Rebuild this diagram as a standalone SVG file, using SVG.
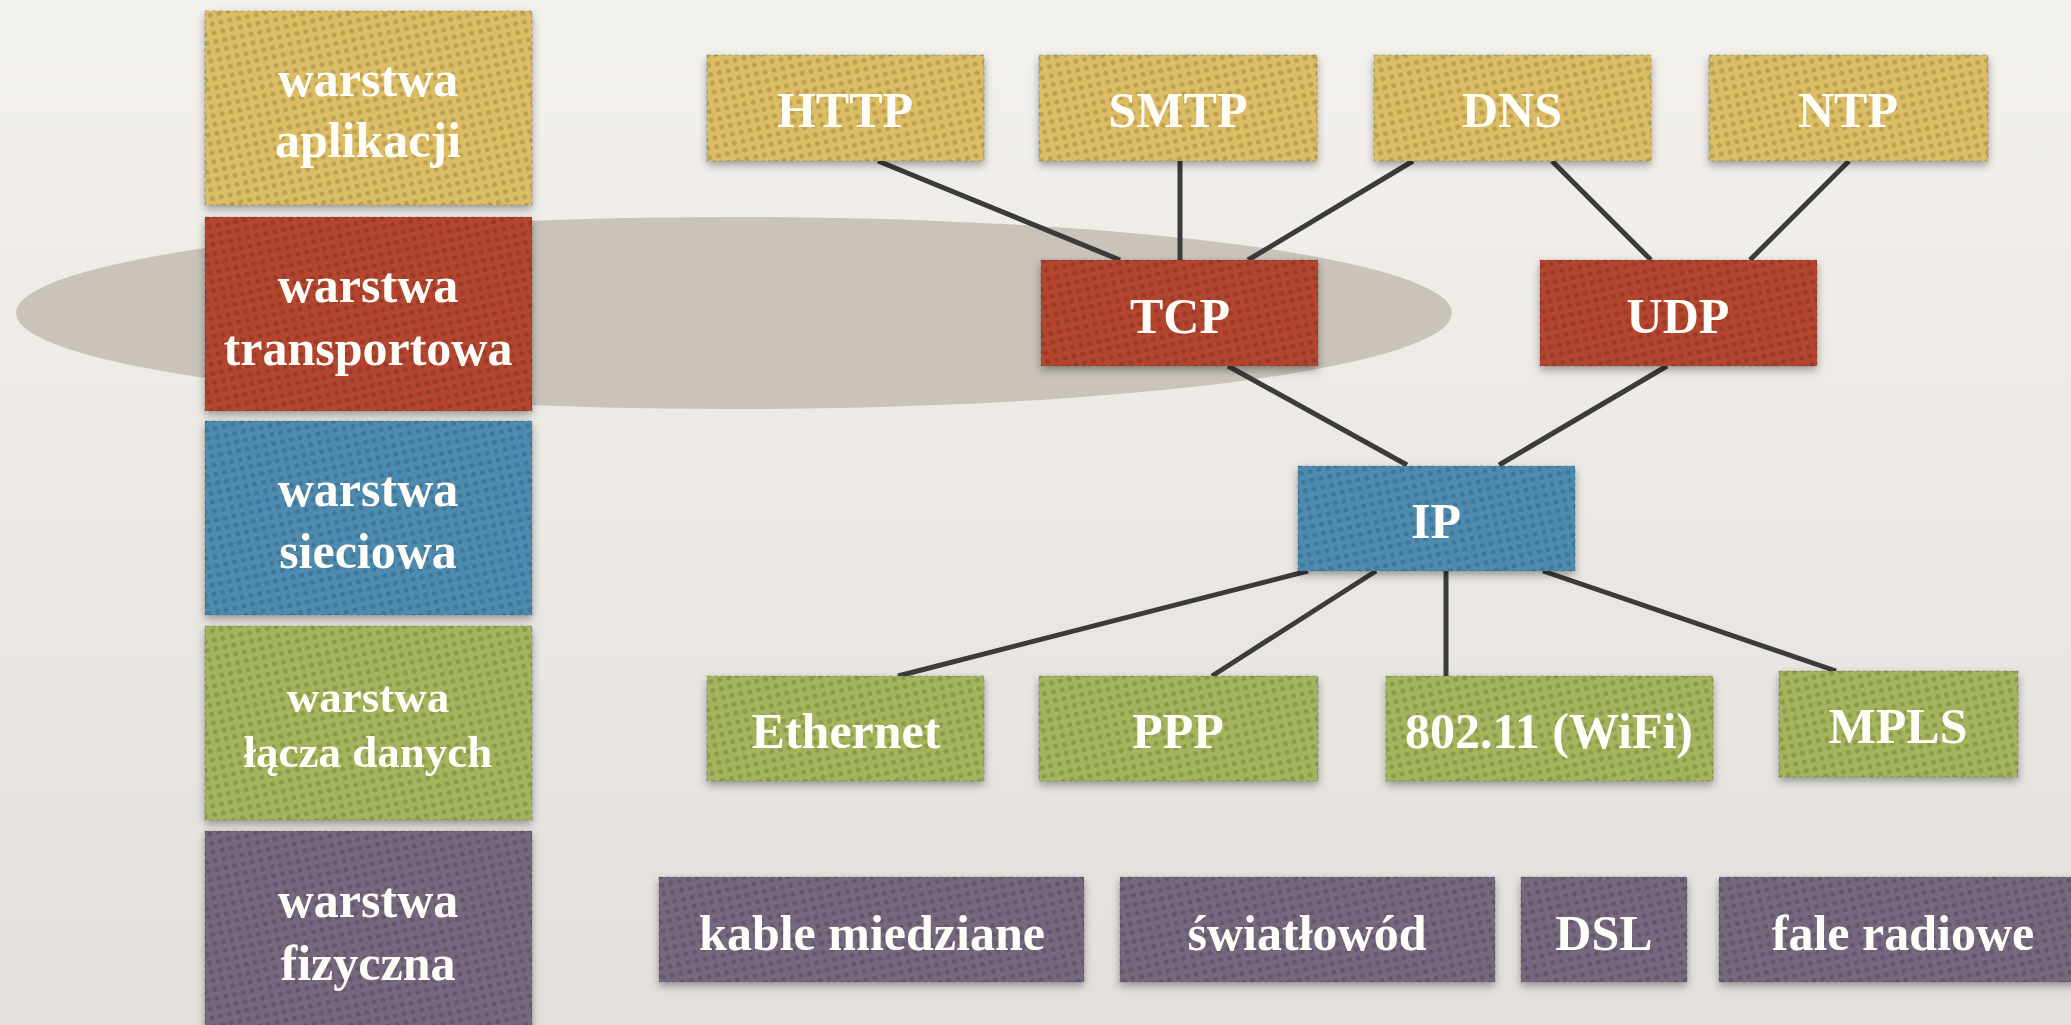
<svg xmlns="http://www.w3.org/2000/svg" width="2071" height="1025" viewBox="0 0 2071 1025">
<defs>
<linearGradient id="bg" x1="0" y1="0" x2="0" y2="1">
<stop offset="0" stop-color="#f3f1ec"/>
<stop offset="1" stop-color="#e3e0db"/>
</linearGradient>
<pattern id="dots" width="9" height="9" patternUnits="userSpaceOnUse" patternTransform="rotate(-12)">
<circle cx="4.5" cy="4.5" r="2.5" fill="#000" fill-opacity="0.15"/>
</pattern>
<filter id="sh" x="-10%" y="-10%" width="120%" height="130%">
<feDropShadow dx="0" dy="4" stdDeviation="4" flood-color="#000" flood-opacity="0.35"/>
</filter>
</defs>
<style>
.box{filter:url(#sh);}
.dot{fill:url(#dots);stroke:#333;stroke-opacity:0.25;stroke-width:1.2;stroke-dasharray:4 3;}
.app{fill:#dcbd64;}
.tra{fill:#b4452f;}
.net{fill:#4e8bb0;}
.lnk{fill:#a3b55b;}
.phy{fill:#76687e;}
text{font-family:"Liberation Serif","Times New Roman",serif;font-weight:bold;fill:#fffdf8;text-anchor:middle;font-size:50px;}
text.sm{font-size:45px;}
.con line{stroke:#3b3b3b;stroke-width:5;stroke-linecap:butt;}
</style>
<rect x="0" y="0" width="2071" height="1025" fill="url(#bg)"/>
<ellipse id="highlight" cx="734" cy="313" rx="718" ry="96" fill="#c9c3ba"/>

<g id="connectors" class="con">
<line x1="878" y1="161" x2="1120" y2="260"/>
<line x1="1180" y1="161" x2="1180" y2="260"/>
<line x1="1413" y1="161" x2="1248" y2="260"/>
<line x1="1552" y1="161" x2="1651" y2="260"/>
<line x1="1849" y1="161" x2="1750" y2="260"/>
<line x1="1228" y1="366" x2="1407" y2="465"/>
<line x1="1667" y1="366" x2="1499" y2="465"/>
<line x1="1308" y1="571" x2="898" y2="676"/>
<line x1="1376" y1="571" x2="1212" y2="676"/>
<line x1="1446" y1="571" x2="1446" y2="676"/>
<line x1="1543" y1="571" x2="1836" y2="671"/>
</g>

<g id="layer-app" class="box"><rect class="app" x="205" y="11" width="327" height="194"/><rect class="dot" x="205" y="11" width="327" height="194"/><text x="368" y="96">warstwa</text><text x="368" y="157">aplikacji</text></g>
<g id="layer-transport" class="box"><rect class="tra" x="205" y="217" width="327" height="194"/><rect class="dot" x="205" y="217" width="327" height="194"/><text x="368" y="302">warstwa</text><text x="368" y="365">transportowa</text></g>
<g id="layer-network" class="box"><rect class="net" x="205" y="421" width="327" height="194"/><rect class="dot" x="205" y="421" width="327" height="194"/><text x="368" y="506">warstwa</text><text x="368" y="568">sieciowa</text></g>
<g id="layer-link" class="box"><rect class="lnk" x="205" y="626" width="327" height="194"/><rect class="dot" x="205" y="626" width="327" height="194"/><text class="sm" x="368" y="712">warstwa</text><text class="sm" x="368" y="767">łącza danych</text></g>
<g id="layer-physical" class="box"><rect class="phy" x="205" y="831" width="327" height="200"/><rect class="dot" x="205" y="831" width="327" height="200"/><text x="368" y="917">warstwa</text><text x="368" y="980">fizyczna</text></g>

<g id="http" class="box"><rect class="app" x="707" y="55" width="277" height="106"/><rect class="dot" x="707" y="55" width="277" height="106"/><text x="845" y="127">HTTP</text></g>
<g id="smtp" class="box"><rect class="app" x="1039" y="55" width="278" height="106"/><rect class="dot" x="1039" y="55" width="278" height="106"/><text x="1178" y="127">SMTP</text></g>
<g id="dns" class="box"><rect class="app" x="1374" y="55" width="277" height="106"/><rect class="dot" x="1374" y="55" width="277" height="106"/><text x="1512" y="127">DNS</text></g>
<g id="ntp" class="box"><rect class="app" x="1709" y="55" width="279" height="106"/><rect class="dot" x="1709" y="55" width="279" height="106"/><text x="1848" y="127">NTP</text></g>

<g id="tcp" class="box"><rect class="tra" x="1041" y="260" width="277" height="106"/><rect class="dot" x="1041" y="260" width="277" height="106"/><text x="1180" y="333">TCP</text></g>
<g id="udp" class="box"><rect class="tra" x="1540" y="260" width="277" height="106"/><rect class="dot" x="1540" y="260" width="277" height="106"/><text x="1678" y="333">UDP</text></g>

<g id="ip" class="box"><rect class="net" x="1298" y="466" width="277" height="105"/><rect class="dot" x="1298" y="466" width="277" height="105"/><text x="1436" y="538">IP</text></g>

<g id="ethernet" class="box"><rect class="lnk" x="707" y="676" width="277" height="105"/><rect class="dot" x="707" y="676" width="277" height="105"/><text x="846" y="748">Ethernet</text></g>
<g id="ppp" class="box"><rect class="lnk" x="1039" y="676" width="279" height="105"/><rect class="dot" x="1039" y="676" width="279" height="105"/><text x="1178" y="748">PPP</text></g>
<g id="wifi" class="box"><rect class="lnk" x="1386" y="676" width="327" height="105"/><rect class="dot" x="1386" y="676" width="327" height="105"/><text x="1549" y="748">802.11 (WiFi)</text></g>
<g id="mpls" class="box"><rect class="lnk" x="1779" y="671" width="239" height="106"/><rect class="dot" x="1779" y="671" width="239" height="106"/><text x="1898" y="743">MPLS</text></g>

<g id="copper" class="box"><rect class="phy" x="659" y="877" width="425" height="105"/><rect class="dot" x="659" y="877" width="425" height="105"/><text x="872" y="950">kable miedziane</text></g>
<g id="fiber" class="box"><rect class="phy" x="1120" y="877" width="375" height="105"/><rect class="dot" x="1120" y="877" width="375" height="105"/><text x="1307" y="950">światłowód</text></g>
<g id="dsl" class="box"><rect class="phy" x="1521" y="877" width="166" height="105"/><rect class="dot" x="1521" y="877" width="166" height="105"/><text x="1604" y="950">DSL</text></g>
<g id="radio" class="box"><rect class="phy" x="1719" y="877" width="360" height="105"/><rect class="dot" x="1719" y="877" width="360" height="105"/><text x="1903" y="950">fale radiowe</text></g>
</svg>
